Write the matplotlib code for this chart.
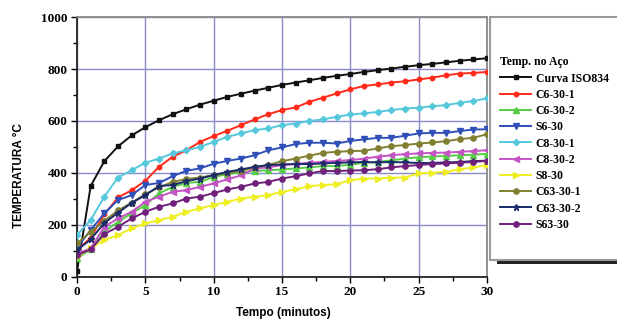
import matplotlib
matplotlib.use("Agg")
import numpy as np
import matplotlib.pyplot as plt
from matplotlib.patches import Rectangle

# time in minutes
tempo = list(range(31))

iso834 = [20, 349, 445, 502, 544, 576, 603, 626, 645, 663, 678, 693, 705, 717, 728, 739,
          748, 757, 766, 774, 781, 789, 796, 802, 809, 815, 820, 826, 832, 837, 842]
c6_30_1 = [100, 150, 240, 305, 333, 369, 423, 462, 487, 519, 542, 562, 584, 606, 626, 642,
           652, 674, 690, 706, 722, 735, 741, 748, 753, 760, 767, 776, 783, 785, 789]
c6_30_2 = [70, 105, 173, 211, 244, 276, 321, 346, 361, 365, 384, 395, 402, 407, 410, 413,
           417, 421, 426, 426, 432, 438, 442, 448, 455, 460, 463, 465, 468, 470, 473]
s6_30 = [112, 179, 244, 295, 314, 353, 361, 387, 408, 417, 435, 446, 455, 468, 487, 498,
         511, 516, 516, 513, 523, 529, 535, 535, 543, 552, 554, 554, 561, 567, 568]
c8_30_1 = [160, 218, 308, 382, 410, 439, 455, 475, 487, 500, 519, 539, 552, 565, 571, 584,
           590, 600, 606, 616, 625, 629, 635, 642, 648, 651, 657, 661, 670, 677, 687]
c8_30_2 = [89, 109, 192, 224, 250, 288, 308, 327, 333, 346, 359, 375, 390, 417, 421, 430,
           434, 439, 442, 446, 449, 455, 462, 468, 472, 475, 477, 478, 481, 484, 487]
s8_30 = [76, 109, 141, 160, 186, 205, 218, 230, 250, 263, 276, 288, 301, 308, 314, 327,
         336, 349, 353, 356, 372, 378, 378, 381, 382, 398, 400, 404, 414, 421, 430]
c63_30_1 = [128, 172, 215, 255, 285, 318, 344, 365, 376, 382, 391, 398, 408, 421, 430, 445,
            455, 466, 477, 481, 484, 485, 494, 503, 507, 513, 517, 522, 530, 535, 549]
c63_30_2 = [102, 143, 207, 246, 284, 314, 349, 353, 368, 378, 391, 404, 413, 423, 430, 432,
            434, 434, 436, 439, 440, 442, 440, 442, 440, 438, 438, 440, 442, 445, 447]
s63_30 = [83, 105, 164, 192, 224, 250, 269, 282, 301, 308, 322, 336, 346, 359, 365, 378,
          387, 398, 407, 407, 409, 410, 414, 421, 426, 430, 434, 436, 439, 442, 446]

series = [
    ("Curva ISO834", iso834, "#111111", "s", 3.2),
    ("C6-30-1", c6_30_1, "#ff2a1a", "o", 3.2),
    ("C6-30-2", c6_30_2, "#55cc44", "^", 3.8),
    ("S6-30", s6_30, "#3050b8", "v", 3.8),
    ("C8-30-1", c8_30_1, "#55c8dc", "D", 3.2),
    ("C8-30-2", c8_30_2, "#c455c4", "<", 3.8),
    ("S8-30", s8_30, "#eeee22", ">", 3.8),
    ("C63-30-1", c63_30_1, "#808030", "o", 3.8),
    ("C63-30-2", c63_30_2, "#1c2a6a", "*", 4.5),
    ("S63-30", s63_30, "#70207a", "o", 3.8),
]

fig = plt.figure(figsize=(6.17, 3.25), dpi=100)
ax = fig.add_axes([0.1248, 0.149, 0.6645, 0.798])

handles = []
for name, vals, col, mk, ms in series:
    h, = ax.plot(tempo, vals, color=col, marker=mk, markersize=ms, lw=1.4,
                 label=name, zorder=3)
    handles.append(h)

ax.set_xlim(0, 30)
ax.set_ylim(0, 1000)
ax.set_xticks(np.arange(0, 31, 5))
ax.set_yticks(np.arange(0, 1001, 200))
ax.set_xticks(np.arange(0, 31, 2.5), minor=True)
ax.set_yticks(np.arange(0, 1001, 100), minor=True)
ax.grid(True, which="major", color="#8c8ccc", lw=1.0, zorder=0)
ax.tick_params(which="major", direction="out", length=4, width=1, pad=3)
ax.tick_params(which="minor", direction="out", length=3, width=1)
for lab in ax.get_xticklabels() + ax.get_yticklabels():
    lab.set_family("Liberation Serif")
    lab.set_fontweight("bold")
    lab.set_fontsize(9.5)

for side in ["left", "bottom"]:
    ax.spines[side].set_linewidth(1.3)
    ax.spines[side].set_color("#222222")
for side in ["top", "right"]:
    ax.spines[side].set_linewidth(1.3)
    ax.spines[side].set_color("#888888")

fig.text(0.030, 0.46, "TEMPERATURA °C", rotation=90, ha="center", va="center",
         family="Liberation Sans", fontweight="bold", fontsize=8.5)
fig.text(0.459, 0.037, "Tempo (minutos)", ha="center", va="center",
         family="Liberation Sans", fontweight="bold", fontsize=8.5)

# legend box with a shadow along the bottom, running off the right edge
fig.patches.append(Rectangle((497 / 617, 1 - 264 / 325), 0.3, 20 / 325,
                             transform=fig.transFigure, facecolor="#222222",
                             edgecolor="none", zorder=1))
fig.patches.append(Rectangle((490 / 617, 1 - 260 / 325), 0.3, 243 / 325,
                             transform=fig.transFigure, facecolor="white",
                             edgecolor="#999999", lw=1.5, zorder=2))

leg = fig.legend(handles=handles, loc="upper left",
                 bbox_to_anchor=(492 / 617, 1 - 48 / 325),
                 frameon=False, title="Temp. no Aço", alignment="left",
                 prop={"family": "Liberation Serif", "weight": "bold", "size": 8.5},
                 title_fontproperties={"family": "Liberation Serif",
                                       "weight": "bold", "size": 8.5},
                 handlelength=2.6, handletextpad=0.4, labelspacing=0.36,
                 borderpad=0.2)
leg.set_zorder(5)

fig.savefig("out.png", dpi=100)
